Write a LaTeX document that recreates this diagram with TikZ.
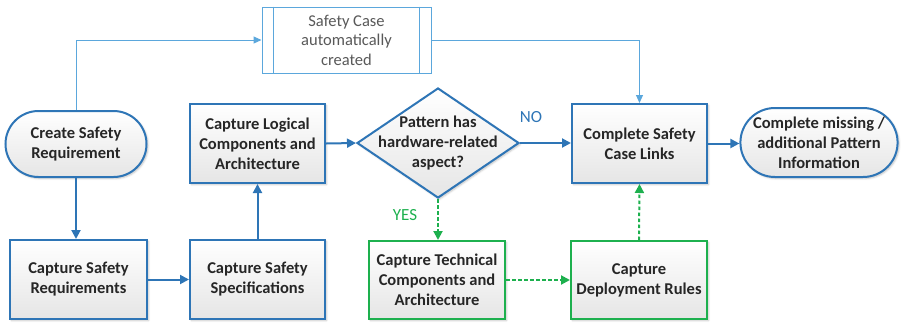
\documentclass[tikz,border=0pt]{standalone}
\usepackage{fontspec}
\setmainfont{Carlito}
\usetikzlibrary{shapes.geometric,shapes.misc,arrows.meta,shadows.blur}
\definecolor{flowblue}{HTML}{2E75B6}
\definecolor{lightblue}{HTML}{5BA7DC}
\definecolor{flowgreen}{HTML}{1DB04E}
\definecolor{capgray}{HTML}{595959}

\tikzset{
  softshadow/.style={blur shadow={shadow xshift=1.5pt,shadow yshift=-1.5pt,shadow blur steps=4,shadow opacity=25}},
  boxtext/.style={align=center, font=\fontsize{16.5}{20}\selectfont\bfseries, text=black!85},
  box/.style={draw=flowblue, line width=2pt, top color=white, bottom color=black!10,
    minimum width=135pt, minimum height=79pt, inner sep=1pt, boxtext, softshadow},
  greenbox/.style={box, draw=flowgreen},
  terminal/.style={box, rounded rectangle, minimum height=66pt},
  decision/.style={diamond, draw=flowblue, line width=2pt, top color=white, bottom color=black!10,
    inner sep=0pt, minimum width=162pt, minimum height=110pt, softshadow},
  process/.style={draw=lightblue, line width=1pt, fill=white, minimum width=169pt, minimum height=66pt,
    align=center, font=\fontsize{16.5}{19.5}\selectfont, text=capgray},
  flow/.style={draw=flowblue, line width=2pt, -{Triangle[length=9pt,width=9pt]}},
  flowdash/.style={draw=flowgreen, line width=2pt, dash pattern=on 3.5pt off 2.5pt, -{Triangle[length=9pt,width=9pt]}},
  auto link/.style={draw=lightblue, line width=1pt, -{Triangle[length=8pt,width=7pt]}},
  answer/.style={font=\fontsize{17}{20}\selectfont}
}

\begin{document}
\begin{tikzpicture}[x=1pt,y=-1pt]
  \useasboundingbox (0,0) rectangle (906,325);

  % automatically created safety case (predefined process)
  \node[process] (case) at (346.5,40) {Safety Case\\automatically\\created};
  \draw[lightblue, line width=1pt] ([xshift=12pt]case.north west) -- ([xshift=12pt]case.south west);
  \draw[lightblue, line width=1pt] ([xshift=-12pt]case.north east) -- ([xshift=-12pt]case.south east);

  % main flow
  \node[terminal, minimum width=143pt] (start) at (76,144) {Create Safety\\Requirement};
  \node[box, minimum width=137pt] (req) at (78.5,279.5) {Capture Safety\\Requirements};
  \node[box] (spec) at (257.5,279.5) {Capture Safety\\Specifications};
  \node[box] (logical) at (257.5,143.5) {Capture Logical\\Components and\\Architecture};
  \node[decision] (hw) at (438,143) {};
  \node[boxtext] (hwtext) at (hw.center) {Pattern has\\hardware-related\\aspect?};
  \node[box] (links) at (639.5,143.5) {Complete Safety\\Case Links};
  \node[terminal, minimum width=152pt, minimum height=69pt] (missing) at (819,142.5)
    {Complete missing /\\additional Pattern\\Information};

  % hardware branch
  \node[greenbox, minimum width=136pt, minimum height=78pt] (tech) at (437,280)
    {Capture Technical\\Components and\\Architecture};
  \node[greenbox, minimum width=136pt, minimum height=78pt] (deploy) at (639,280)
    {Capture\\Deployment Rules};

  % connectors
  \draw[flow] (start.south) -- (start.south |- req.north);
  \draw[flow] (req.east) -- (spec.west |- req.east);
  \draw[flow] (spec.north) -- (logical.south);
  \draw[flow] (logical.east) -- (hw.west);
  \draw[flow] (hw.east) -- (links.west |- hw.east);
  \draw[flow] (links.east) -- (missing.west |- links.east);
  \draw[flowdash] (hw.south) -- (hw.south |- tech.north);
  \draw[flowdash] (tech.east) -- (deploy.west);
  \draw[flowdash] (deploy.north) -- (links.south);
  \draw[auto link] (start.north) |- (case.west);
  \draw[auto link] (case.east) -| (links.north);

  % decision answers
  \node[answer, text=flowblue] (no) at (531,117) {NO};
  \node[answer, text=flowgreen] (yes) at (405,215) {YES};
\end{tikzpicture}
\end{document}
